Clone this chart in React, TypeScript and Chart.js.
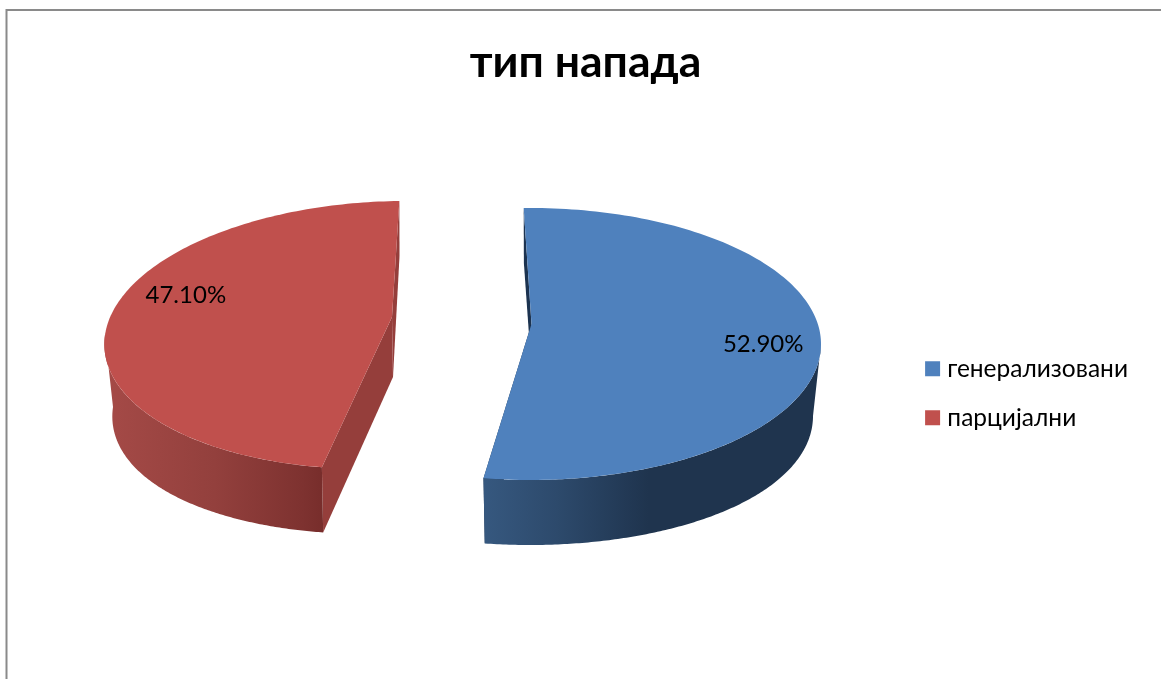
import React, { useEffect, useRef } from "react";
import { Chart, registerables } from "chart.js";

Chart.register(...registerables);

const chartTitle = "тип напада";
const categories = ["генерализовани", "парцијални"];
const shares = [52.9, 47.1];
const topColors = ["#4f81bd", "#c0504d"];
const frameColor = "#8a8a8a";
const labelFont = "Lato, 'Noto Sans', sans-serif";

// 3D projection of every exploded slice: ellipse centre, radii, skew, lit wall colours.
const projection = [
  {
    cx: 530, cy: 344, rx: 291, ry: 136, skew: 0, apexX: 531.5, apexY: 324,
    cut: "#1c3350",
    wall: [[0, "#36587f"], [0.22, "#2d4a6c"], [0.5, "#1f344e"], [1, "#1f344e"]],
    wallX: [484, 813], labelOffset: [1, -7],
  },
  {
    cx: 386, cy: 335, rx: 281, ry: 134, skew: -0.145, apexX: 392, apexY: 317,
    cut: "#953e3b",
    wall: [[0, "#a54a47"], [0.5, "#93403d"], [0.9, "#7e3230"], [1, "#772d2b"]],
    wallX: [105, 324], labelOffset: [23, -32.5],
  },
];

type Geo = (typeof projection)[number];

const topPoint = (g: Geo, a: number, f = 1) => {
  const dy = -Math.cos(a) * g.ry * f;
  return { x: g.cx + Math.sin(a) * g.rx * f + g.skew * dy, y: g.cy + dy };
};
const wallDepth = (a: number) =>
  65 + 7 * Math.sin(a) ** 2 - 10 * Math.max(Math.cos(a), 0);
const lowPoint = (g: Geo, a: number) => {
  const p = topPoint(g, a);
  return { x: p.x - Math.sin(a) * 8, y: p.y + wallDepth(a) };
};

const polygon = (ctx: CanvasRenderingContext2D, pts: { x: number; y: number }[], fill: any) => {
  ctx.beginPath();
  pts.forEach((p, i) => (i ? ctx.lineTo(p.x, p.y) : ctx.moveTo(p.x, p.y)));
  ctx.closePath();
  ctx.fillStyle = fill;
  ctx.fill();
};

const range = (from: number, to: number) => {
  const out: number[] = [];
  const n = 160;
  for (let i = 0; i <= n; i++) out.push(from + ((to - from) * i) / n);
  return out;
};

const pie3d = {
  id: "pie3d",
  beforeDraw(chart: any) {
    const { ctx, width, height } = chart;
    ctx.save();
    ctx.fillStyle = "#ffffff";
    ctx.fillRect(0, 0, width, height);
    ctx.strokeStyle = frameColor;
    ctx.lineWidth = 2;
    ctx.beginPath();
    ctx.moveTo(6.5, height);
    ctx.lineTo(6.5, 10);
    ctx.lineTo(width, 10);
    ctx.stroke();
    ctx.restore();
  },
  beforeDatasetDraw(chart: any) {
    const { ctx } = chart;
    const arcs = chart.getDatasetMeta(0).data;
    ctx.save();
    arcs.forEach((arc: any, i: number) => {
      const g = projection[i];
      const start = arc.startAngle + Math.PI / 2;
      const end = arc.endAngle + Math.PI / 2;
      const apex = { x: g.apexX, y: g.apexY };
      const apexLow = { x: g.apexX + 1, y: g.apexY + 60 };
      polygon(ctx, [topPoint(g, start), lowPoint(g, start), apexLow, apex], g.cut);
      polygon(ctx, [topPoint(g, end), lowPoint(g, end), apexLow, apex], g.cut);
      // outer wall: only the front half of the rim is visible
      const from = Math.max(start, Math.PI / 2);
      const to = Math.min(end, (3 * Math.PI) / 2);
      const angles = range(from, to);
      const grad = ctx.createLinearGradient(g.wallX[0], 0, g.wallX[1], 0);
      g.wall.forEach(([o, c]) => grad.addColorStop(o as number, c as string));
      polygon(
        ctx,
        [...angles.map((a) => topPoint(g, a)), ...angles.reverse().map((a) => lowPoint(g, a))],
        grad
      );
      polygon(ctx, [apex, ...range(start, end).map((a) => topPoint(g, a))], topColors[i]);
    });
    ctx.restore();
    return false;
  },
  afterDatasetsDraw(chart: any) {
    const { ctx } = chart;
    const arcs = chart.getDatasetMeta(0).data;
    ctx.save();
    ctx.font = `24px ${labelFont}`;
    ctx.fillStyle = "#000000";
    ctx.textAlign = "center";
    ctx.textBaseline = "middle";
    arcs.forEach((arc: any, i: number) => {
      const g = projection[i];
      const mid = (arc.startAngle + arc.endAngle) / 2 + Math.PI / 2;
      const p = topPoint(g, mid, 0.8);
      ctx.fillText(`${shares[i].toFixed(2)}%`, p.x + g.labelOffset[0], p.y + g.labelOffset[1]);
    });
    ctx.restore();
  },
};

export default function App() {
  const ref = useRef<HTMLCanvasElement>(null);
  useEffect(() => {
    document.body.style.margin = "0";
    const chart = new Chart(ref.current as HTMLCanvasElement, {
      type: "pie",
      data: {
        labels: categories,
        datasets: [{ data: shares, backgroundColor: topColors, borderWidth: 0 }],
      },
      options: {
        animation: false,
        responsive: false,
        rotation: -1.24,
        layout: { padding: { left: 33, right: 23, top: 36, bottom: 0 } },
        plugins: {
          tooltip: { enabled: false },
          title: {
            display: true,
            text: chartTitle,
            color: "#000000",
            font: { family: labelFont, size: 44.5, weight: "bold" },
            padding: { top: 0, bottom: 18 },
          },
          legend: {
            position: "right",
            fullSize: false,
            labels: {
              boxWidth: 5,
              boxHeight: 5,
              padding: 24.5,
              color: "#000000",
              font: { family: labelFont, size: 24.5 },
              generateLabels: () =>
                categories.map((text, i) => ({
                  text,
                  index: i,
                  fillStyle: topColors[i],
                  strokeStyle: topColors[i],
                  fontColor: "#000000",
                  lineWidth: 10,
                  lineJoin: "miter",
                  hidden: false,
                })),
            },
          },
        },
      },
      plugins: [pie3d],
    } as any);
    return () => chart.destroy();
  }, []);
  return <canvas ref={ref} width={1161} height={679} style={{ display: "block" }} />;
}
